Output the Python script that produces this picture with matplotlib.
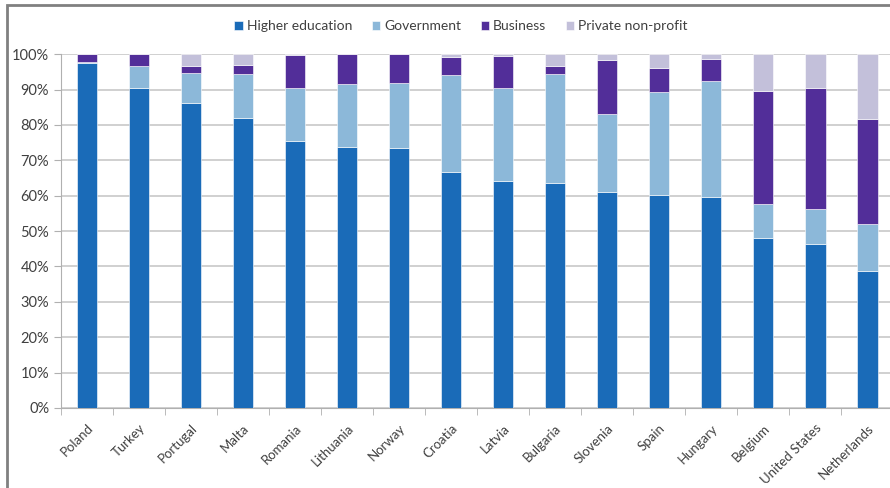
import numpy as np
import matplotlib
matplotlib.use('Agg')
import matplotlib.pyplot as plt
from matplotlib.patches import Rectangle
from matplotlib.ticker import FuncFormatter

countries = ['Poland', 'Turkey', 'Portugal', 'Malta', 'Romania', 'Lithuania', 'Norway', 'Croatia',
             'Latvia', 'Bulgaria', 'Slovenia', 'Spain', 'Hungary', 'Belgium', 'United States', 'Netherlands']

# shares in %
higher_edu = [97.6, 90.5, 86.2, 81.9, 75.5, 73.7, 73.4, 66.6, 64.1, 63.5, 61.0, 60.2, 59.7, 48.0, 46.3, 38.7]
government = [0.3, 6.2, 8.4, 12.5, 15.0, 17.9, 18.5, 27.6, 26.3, 31.0, 22.2, 29.1, 32.7, 9.6, 9.9, 13.3]
business = [2.1, 3.3, 2.0, 2.6, 9.2, 8.4, 8.1, 5.1, 9.0, 2.2, 15.2, 6.7, 6.2, 31.9, 34.2, 29.6]
private_np = [0.0, 0.0, 3.4, 3.0, 0.3, 0.0, 0.0, 0.7, 0.6, 3.3, 1.6, 4.0, 1.4, 10.5, 9.6, 18.4]

series = [('Higher education', higher_edu, '#1a6bb8'),
          ('Government', government, '#8cb8d9'),
          ('Business', business, '#522e99'),
          ('Private non-profit', private_np, '#c3c0da')]

plt.rcParams['font.family'] = ['Lato', 'DejaVu Sans']
txt = '#404040'

fig = plt.figure(figsize=(8.9, 4.88), dpi=100)
ax = fig.add_axes([0.0685, 0.164, 0.935, 0.725])

x = np.arange(len(countries))
bottom = np.zeros(len(countries))
for name, vals, col in series:
    vals = np.array(vals)
    ax.bar(x, vals, 0.4, bottom=bottom, color=col, label=name,
           edgecolor='#ffffff', linewidth=0.4, zorder=3)
    bottom += vals

ax.set_xlim(-0.5, len(countries) - 0.5)
ax.set_ylim(0, 100)
ax.set_yticks(np.arange(0, 101, 10))
ax.yaxis.set_major_formatter(FuncFormatter(lambda v, p: '%d%%' % v))
ax.grid(axis='y', color='#c8c8c8', linewidth=1.2, zorder=0)
ax.set_xticks(x)
ax.set_xticklabels(countries, rotation=45, ha='right', rotation_mode='anchor', fontsize=9.5, color=txt)
ax.set_xticks(np.arange(-0.5, len(countries)), minor=True)
ax.tick_params(axis='x', which='major', length=0, pad=10)
ax.tick_params(axis='x', which='minor', length=5, color='#b0b0b0')
ax.tick_params(axis='y', length=5, color='#b0b0b0', labelsize=10.5, labelcolor=txt)
for s in ['top', 'right']:
    ax.spines[s].set_visible(False)
ax.spines['left'].set_color('#b0b0b0')
ax.spines['bottom'].set_color('#b0b0b0')

fig.legend(loc='center', bbox_to_anchor=(0.518, 0.946), ncol=4, frameon=False,
           fontsize=10, handlelength=0.6, handleheight=0.6, handletextpad=0.3,
           columnspacing=1.4, labelcolor=txt)

# outer frame of the original screenshot
fig.patches.append(Rectangle((0.008, -0.05), 1.1, 1.04, transform=fig.transFigure,
                             fill=False, edgecolor='#808080', linewidth=2))

fig.savefig('out.png', dpi=100)
